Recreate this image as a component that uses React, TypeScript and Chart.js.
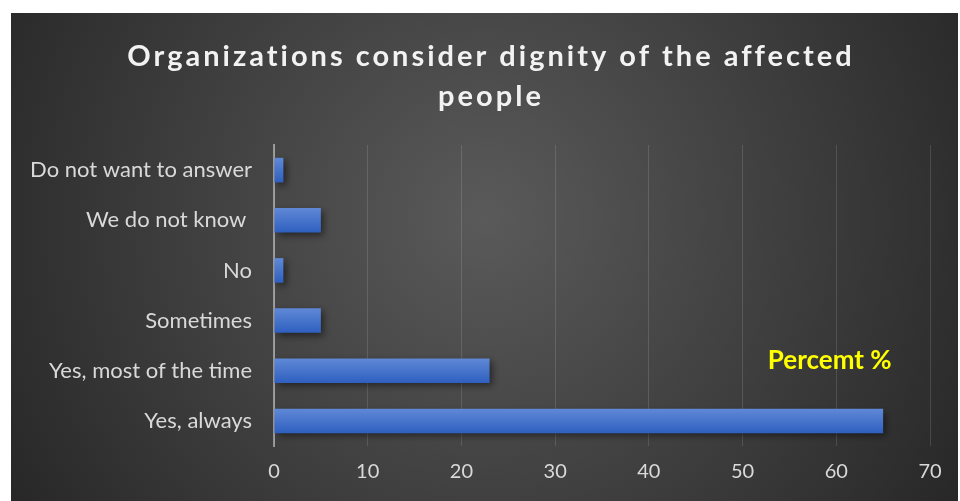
import React, { useEffect, useRef } from 'react';
import { Chart, registerables } from 'chart.js';
Chart.register(...registerables);

const categories = ['Do not want to answer', 'We do not know ', 'No', 'Sometimes', 'Yes, most of the time', 'Yes, always'];
const percentValues = [1, 5, 1, 5, 23, 65];
const xMin = 0;
const xMax = 70;
const xStep = 10;
const titleLines = ['Organizations consider dignity of the affected', 'people'];
const annotationText = 'Percemt %';

const FONT = 'Lato, "Open Sans", sans-serif';

export default function App() {
  const ref = useRef<HTMLCanvasElement | null>(null);
  useEffect(() => {
    const canvas = ref.current;
    if (!canvas) return;

    const bgPlugin = {
      id: 'bgPlugin',
      beforeDraw(chart: any) {
        const { ctx, width, height } = chart;
        ctx.save();
        const cx = width * 0.5;
        const cy = height * 0.42;
        const g = ctx.createRadialGradient(cx, cy, 0, cx, cy, width * 0.6);
        g.addColorStop(0, '#5a5a5a');
        g.addColorStop(1, '#262626');
        ctx.fillStyle = g;
        ctx.fillRect(0, 0, width, height);
        ctx.restore();
      },
      afterDraw(chart: any) {
        const { ctx, chartArea } = chart;
        ctx.save();
        ctx.fillStyle = '#f2f2f2';
        ctx.font = `bold 29px ${FONT}`;
        (ctx as any).letterSpacing = '3px';
        ctx.textAlign = 'center';
        ctx.textBaseline = 'middle';
        titleLines.forEach((t, i) => {
          ctx.fillText(t, 480, 44 + i * 40);
        });
        (ctx as any).letterSpacing = '0px';
        ctx.fillStyle = '#ffff00';
        ctx.font = `bold 26px ${FONT}`;
        ctx.textAlign = 'left';
        const x = chart.scales.x.getPixelForValue(52.7);
        ctx.fillText(annotationText, x, chartArea.top + 216);
        ctx.restore();
      },
      beforeDatasetsDraw(chart: any) {
        const { ctx } = chart;
        ctx.save();
        ctx.shadowColor = 'rgba(0,0,0,0.5)';
        ctx.shadowBlur = 7;
        ctx.shadowOffsetX = 3;
        ctx.shadowOffsetY = 3;
      },
      afterDatasetsDraw(chart: any) {
        chart.ctx.restore();
      },
    };

    const chart = new Chart(canvas, {
      type: 'bar',
      plugins: [bgPlugin],
      data: {
        labels: categories,
        datasets: [
          {
            label: 'Percent',
            data: percentValues,
            backgroundColor: (c: any) => {
              const ch = c.chart;
              const ys = ch.scales && ch.scales.y;
              if (!ys || c.dataIndex === undefined) return '#4472c4';
              const y = ys.getPixelForValue(c.dataIndex);
              if (!isFinite(y)) return '#4472c4';
              const g = ch.ctx.createLinearGradient(0, y - 12, 0, y + 12);
              g.addColorStop(0, '#5f88d6');
              g.addColorStop(1, '#2f60c0');
              return g;
            },
            borderWidth: 0,
            barPercentage: 0.49,
            categoryPercentage: 1,
          },
        ],
      },
      options: {
        indexAxis: 'y',
        animation: false,
        responsive: true,
        maintainAspectRatio: false,
        layout: { padding: { top: 132, right: 28, left: 0, bottom: 0 } },
        plugins: {
          legend: { display: false },
          title: { display: false },
          tooltip: { enabled: false },
        },
        scales: {
          x: {
            min: xMin,
            max: xMax,
            ticks: {
              stepSize: xStep,
              color: '#d9d9d9',
              font: { family: FONT, size: 20 },
              padding: 14,
            },
            grid: {
              color: 'rgba(255,255,255,0.13)',
              lineWidth: 1,
              drawTicks: false,
            },
            border: { display: false },
            afterFit(scale: any) {
              scale.height = 55;
            },
          },
          y: {
            ticks: {
              color: '#d9d9d9',
              font: { family: FONT, size: 22 },
              padding: 22,
            },
            grid: { display: false, drawTicks: false },
            border: { display: true, color: 'rgba(217,217,217,0.55)', width: 2 },
            afterFit(scale: any) {
              scale.width = 263;
            },
          },
        },
      },
    });
    return () => chart.destroy();
  }, []);

  return (
    <div style={{ position: 'absolute', left: 11, top: 13, width: 947, height: 488 }}>
      <canvas ref={ref} />
    </div>
  );
}
